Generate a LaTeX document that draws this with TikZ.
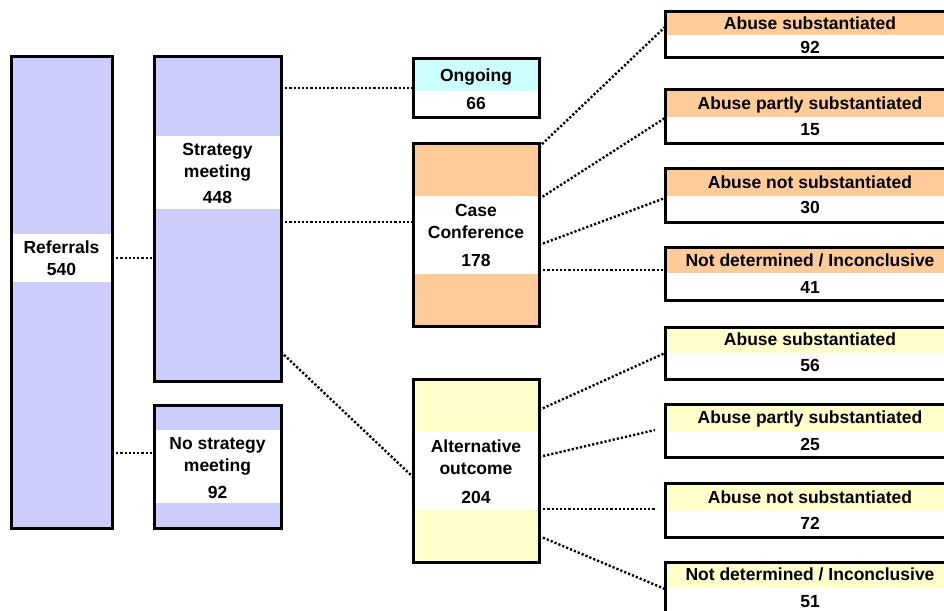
\documentclass[tikz,border=0pt]{standalone}
\usepackage{fontspec}
\setmainfont{Liberation Sans}
\definecolor{lav}{HTML}{CCCCFF}
\definecolor{org}{HTML}{FFCC99}
\definecolor{cyn}{HTML}{CCFFFF}
\definecolor{ylw}{HTML}{FFFFCC}
\begin{document}
\begin{tikzpicture}[x=1pt,y=-1pt,
  frame/.style={draw=black, line width=3pt, inner sep=0pt, outer sep=0pt, rectangle},
  lbl/.style={font=\fontsize{17.5}{22}\selectfont\bfseries, align=center, inner sep=0pt, text=black},
  conn/.style={line width=2.4pt, dash pattern=on 2.2pt off 2pt}]
\useasboundingbox (0,0) rectangle (944,610);
\clip (0,0) rectangle (944,610);

% Referrals
\node[frame, fill=lav, minimum width=101pt, minimum height=471pt] (ref) at (61.5,292.5) {};
\fill[white] (12.5,234) rectangle (110.5,282);
\node[lbl] (reft) at (61.5,258.5) {Referrals\\540};

% Strategy meeting
\node[frame, fill=lav, minimum width=127pt, minimum height=324pt] (sm) at (217.5,219) {};
\fill[white] (155.5,136) rectangle (279.5,209);
\node[lbl] (smt) at (217.5,173) {Strategy\\meeting\\[4pt]448};

% No strategy meeting
\node[frame, fill=lav, minimum width=127pt, minimum height=123pt] (nosm) at (217.5,466.5) {};
\fill[white] (155.5,430) rectangle (279.5,503);
\node[lbl] (nosmt) at (217.5,468) {No strategy\\meeting\\[5pt]92};

% Ongoing
\node[frame, fill=white, minimum width=126pt, minimum height=58pt] (og) at (476,88) {};
\fill[cyn] (414.5,60.5) rectangle (537.5,91);
\node[lbl] (ogt) at (476,89) {Ongoing\\[6pt]66};

% Case conference
\node[frame, fill=org, minimum width=126pt, minimum height=183pt] (cc) at (476,234.5) {};
\fill[white] (414.5,196) rectangle (537.5,274);
\node[lbl] (cct) at (476,235) {Case\\Conference\\[6pt]178};

% Alternative outcome
\node[frame, fill=ylw, minimum width=126pt, minimum height=183pt] (alt) at (476,470.5) {};
\fill[white] (414.5,432) rectangle (537.5,510);
\node[lbl] (altt) at (476,471.5) {Alternative\\outcome\\[7pt]204};

% Right boxes (case conference)
\node[frame, fill=white, minimum width=290pt, minimum height=46pt] (r1) at (810,35) {};
\fill[org] (666.5,13.5) rectangle (953.5,35);
\node[lbl] (r1t) at (810,35) {Abuse substantiated\\[2pt]92};

\node[frame, fill=white, minimum width=290pt, minimum height=54pt] (r2) at (810,116) {};
\fill[org] (666.5,90.5) rectangle (953.5,117);
\node[lbl] (r2t) at (810,116) {Abuse partly substantiated\\[4pt]15};

\node[frame, fill=white, minimum width=290pt, minimum height=54pt] (r3) at (810,195) {};
\fill[org] (666.5,169.5) rectangle (953.5,196);
\node[lbl] (r3t) at (810,195) {Abuse not substantiated\\[3pt]30};

\node[frame, fill=white, minimum width=290pt, minimum height=53pt] (r4) at (810,273.5) {};
\fill[org] (666.5,248.5) rectangle (953.5,273);
\node[lbl] (r4t) at (810,274) {Not determined / Inconclusive\\[5pt]41};

% Right boxes (alternative outcome)
\node[frame, fill=white, minimum width=290pt, minimum height=52pt] (r5) at (810,353) {};
\fill[ylw] (666.5,328.5) rectangle (953.5,353);
\node[lbl] (r5t) at (810,352.5) {Abuse substantiated\\[4pt]56};

\node[frame, fill=white, minimum width=290pt, minimum height=53pt] (r6) at (810,430.5) {};
\fill[ylw] (666.5,405.5) rectangle (953.5,432);
\node[lbl] (r6t) at (810,431) {Abuse partly substantiated\\[5pt]25};

\node[frame, fill=white, minimum width=290pt, minimum height=54pt] (r7) at (810,510) {};
\fill[ylw] (666.5,484.5) rectangle (953.5,511);
\node[lbl] (r7t) at (810,510.5) {Abuse not substantiated\\[4pt]72};

\node[frame, fill=white, minimum width=290pt, minimum height=54pt] (r8) at (810,589) {};
\fill[ylw] (666.5,563.5) rectangle (953.5,588);
\node[lbl] (r8t) at (810,588) {Not determined / Inconclusive\\[5pt]51};

% Connectors
\draw[conn] ([yshift=34.5pt]ref.east) -- ([yshift=-39pt]sm.west);
\draw[conn] ([yshift=-160.5pt]ref.east) -- ([yshift=13.5pt]nosm.west);
\draw[conn] ([yshift=131pt]sm.east) -- (og.west);
\draw[conn] ([yshift=-3pt]sm.east) -- ([yshift=12.5pt]cc.west);
\draw[conn] ([yshift=-133pt]sm.east) -- ([yshift=-6.5pt]alt.west);

\draw[conn] ([yshift=87.5pt]cc.east) -- ([yshift=8pt]r1.west);
\draw[conn] ([yshift=35.5pt]cc.east) -- ([yshift=-2pt]r2.west);
\draw[conn] ([yshift=-10.5pt]cc.east) -- ([yshift=-3pt]r3.west);
\draw[conn] ([yshift=-35.5pt]cc.east) -- ([yshift=3.5pt]r4.west);

\draw[conn] ([yshift=60.5pt]alt.east) -- (r5.west);
\draw[conn] ([yshift=13.5pt]alt.east) -- ([xshift=-10pt,yshift=0.5pt]r6.west);
\draw[conn] ([yshift=-38.5pt]alt.east) -- ([xshift=-10pt,yshift=1pt]r7.west);
\draw[conn] ([yshift=-65.5pt]alt.east) -- (r8.west);
\end{tikzpicture}
\end{document}
